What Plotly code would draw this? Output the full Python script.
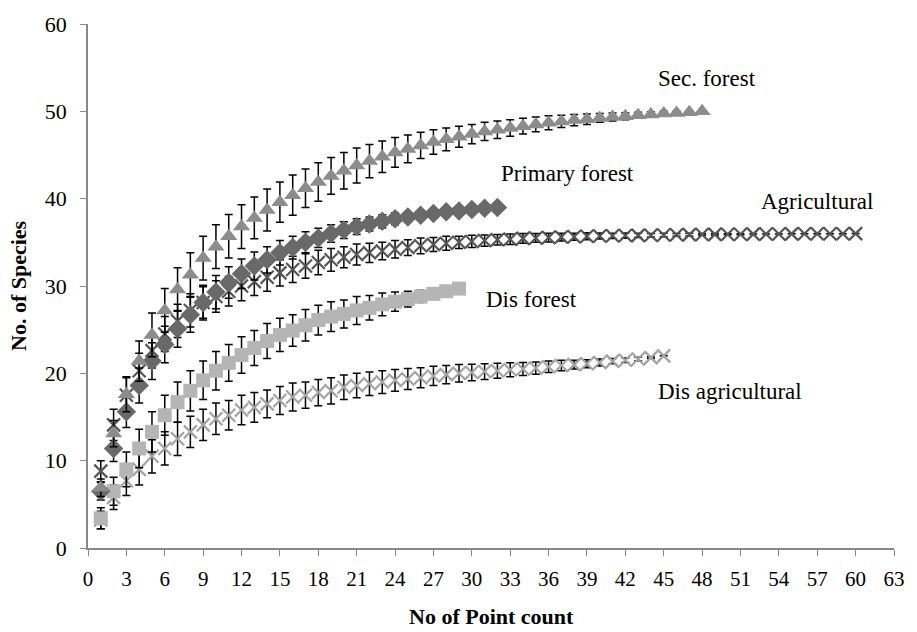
import plotly.graph_objects as go

# ---- data ----
sec_forest = [6.9, 13.1, 17.6, 21.4, 24.4, 27.2, 29.6, 31.3, 33.2, 34.5, 35.7, 36.8, 37.8, 38.7,
              39.6, 40.4, 41.2, 41.9, 42.6, 43.2, 43.8, 44.3, 44.8, 45.3, 45.7, 46.1, 46.5, 46.8,
              47.1, 47.4, 47.7, 47.9, 48.1, 48.3, 48.5, 48.7, 48.85, 49.0, 49.1, 49.25, 49.35,
              49.45, 49.55, 49.65, 49.75, 49.8, 49.9, 50.0]
sec_forest_err = [1.0, 1.5, 2.0, 2.3, 2.5, 2.5, 2.5, 2.5, 2.5, 2.5, 2.5, 2.5, 2.4, 2.4, 2.3, 2.3,
                  2.2, 2.2, 2.1, 2.1, 2.0, 1.9, 1.8, 1.7, 1.6, 1.5, 1.4, 1.3, 1.2, 1.1, 1.05, 1.0,
                  0.95, 0.9, 0.85, 0.8, 0.7, 0.65, 0.6, 0.5, 0.45, 0.4, 0.35, 0.3, 0.25, 0.2, 0.1, 0.0]

primary_forest = [6.5, 11.4, 15.6, 18.6, 21.4, 23.3, 25.1, 26.7, 28.1, 29.3, 30.4, 31.4, 32.3,
                  33.0, 33.8, 34.4, 35.0, 35.5, 36.0, 36.4, 36.8, 37.1, 37.4, 37.7, 37.9, 38.1,
                  38.3, 38.5, 38.6, 38.75, 38.9, 39.0]
primary_forest_err = [1.0, 1.5, 1.8, 2.0, 2.1, 2.1, 2.1, 2.0, 2.0, 1.9, 1.8, 1.7, 1.6, 1.5, 1.4,
                      1.3, 1.2, 1.1, 1.0, 0.95, 0.9, 0.8, 0.75, 0.7, 0.6, 0.5, 0.45, 0.4, 0.3,
                      0.2, 0.1, 0.0]

agricultural = [8.8, 14.1, 17.5, 20.3, 22.6, 24.5, 26.0, 27.2, 28.1, 28.8, 29.4, 30.0, 30.5, 31.0,
                31.5, 31.9, 32.3, 32.7, 33.0, 33.3, 33.6, 33.8, 34.0, 34.2, 34.4, 34.6, 34.75,
                34.9, 35.0, 35.1, 35.2, 35.3, 35.35, 35.45, 35.5, 35.55, 35.6, 35.65, 35.7,
                35.72, 35.75, 35.78, 35.8, 35.82, 35.84, 35.86, 35.88, 35.9, 35.91, 35.92,
                35.93, 35.94, 35.95, 35.96, 35.97, 35.98, 35.98, 35.99, 35.99, 36.0]
agricultural_err = [1.2, 1.8, 2.0, 2.0, 2.0, 2.0, 1.9, 1.9, 1.8, 1.8, 1.7, 1.7, 1.6, 1.6, 1.5,
                    1.5, 1.4, 1.4, 1.3, 1.2, 1.2, 1.1, 1.0, 1.0, 0.9, 0.9, 0.8, 0.8, 0.7, 0.7,
                    0.65, 0.6, 0.6, 0.55, 0.5, 0.5, 0.45, 0.4, 0.4, 0.35, 0.3, 0.3, 0.25, 0.2,
                    0.2, 0.15, 0.15, 0.1, 0.1, 0.05, 0.05, 0.0, 0.0, 0.0, 0.0, 0.0, 0.0, 0.0,
                    0.0, 0.0]

dis_forest = [3.4, 6.5, 9.0, 11.4, 13.3, 15.2, 16.7, 18.0, 19.2, 20.3, 21.2, 22.1, 22.9, 23.7,
              24.4, 24.9, 25.5, 26.1, 26.5, 26.8, 27.2, 27.5, 27.9, 28.2, 28.5, 28.8, 29.1,
              29.4, 29.7]
dis_forest_err = [1.2, 1.6, 2.0, 2.2, 2.3, 2.3, 2.3, 2.3, 2.2, 2.2, 2.1, 2.1, 2.0, 2.0, 1.9,
                  1.8, 1.8, 1.7, 1.7, 1.6, 1.6, 1.4, 1.3, 1.1, 0.9, 0.7, 0.5, 0.3, 0.0]

dis_agricultural = [3.2, 5.8, 7.7, 9.0, 10.5, 11.4, 12.5, 13.3, 14.1, 14.8, 15.2, 15.8, 16.1,
                    16.5, 16.9, 17.3, 17.5, 17.8, 18.0, 18.4, 18.6, 18.8, 19.0, 19.2, 19.35,
                    19.5, 19.7, 19.85, 20.0, 20.1, 20.2, 20.3, 20.4, 20.5, 20.6, 20.75, 20.9,
                    21.0, 21.1, 21.25, 21.4, 21.5, 21.65, 21.8, 22.0]
dis_agricultural_err = [1.0, 1.4, 1.7, 1.8, 1.9, 1.9, 1.9, 1.8, 1.8, 1.8, 1.7, 1.7, 1.7, 1.6,
                        1.6, 1.6, 1.5, 1.5, 1.5, 1.4, 1.4, 1.35, 1.3, 1.25, 1.2, 1.15, 1.1,
                        1.05, 1.0, 0.95, 0.9, 0.85, 0.8, 0.75, 0.7, 0.65, 0.6, 0.5, 0.45, 0.4,
                        0.3, 0.25, 0.2, 0.1, 0.0]

x_ticks = list(range(0, 64, 3))
y_ticks = [0, 10, 20, 30, 40, 50, 60]

labels = [("Sec. forest", 48.35, 53.8), ("Primary forest", 37.5, 42.9),
          ("Agricultural", 56.95, 39.7), ("Dis forest", 34.7, 28.5),
          ("Dis agricultural", 50.2, 17.9)]

FONT = "Liberation Serif, Times New Roman, serif"

series = [
    (dis_agricultural, dis_agricultural_err, "x-thin", "#a3a3a3", 13),
    (dis_forest, dis_forest_err, "square", "#b5b5b5", 14),
    (agricultural, agricultural_err, "x-thin", "#555555", 13),
    (primary_forest, primary_forest_err, "diamond", "#696969", 15),
    (sec_forest, sec_forest_err, "triangle-up", "#8c8c8c", 15),
]

fig = go.Figure()
for vals, errs, sym, col, sz in series:
    xs = list(range(1, len(vals) + 1))
    if sym.startswith("x"):
        marker = dict(symbol=sym, size=sz, color=col, line=dict(color=col, width=2.2))
    else:
        marker = dict(symbol=sym, size=sz, color=col, line=dict(width=0))
    fig.add_trace(go.Scatter(
        x=xs, y=vals, mode="markers", marker=marker,
        error_y=dict(type="data", array=errs, visible=True, color="black",
                     thickness=1.5, width=4),
        showlegend=False, hoverinfo="skip"))

for txt, lx, ly in labels:
    fig.add_annotation(x=lx, y=ly, text=txt, showarrow=False,
                       xanchor="center", yanchor="middle",
                       font=dict(family=FONT, size=23, color="black"))

fig.add_annotation(xref="paper", yref="paper", x=0.5, y=0, yshift=-68,
                   xanchor="center", yanchor="middle",
                   text="<b>No of Point count</b>", showarrow=False,
                   font=dict(family=FONT, size=22, color="black"))
fig.add_annotation(xref="paper", yref="paper", x=0, y=0.5, xshift=-70,
                   xanchor="center", yanchor="middle",
                   text="<b>No. of Species</b>", showarrow=False, textangle=-90,
                   font=dict(family=FONT, size=22, color="black"))

fig.update_layout(
    width=917, height=632,
    margin=dict(l=88, r=16, t=17, b=84),
    paper_bgcolor="white", plot_bgcolor="white",
    font=dict(family=FONT, size=22, color="black"),
    xaxis=dict(range=[0, 63], tickvals=x_ticks, ticks="outside", ticklen=6,
               tickcolor="#888", showline=True, linecolor="#888", linewidth=1.5,
               showgrid=False, zeroline=False, tickfont=dict(size=21),
               ticklabelstandoff=5),
    yaxis=dict(range=[0, 60], tickvals=y_ticks, ticks="outside", ticklen=6,
               tickcolor="#888", showline=True, linecolor="#888", linewidth=1.5,
               showgrid=False, zeroline=False, tickfont=dict(size=22),
               ticklabelstandoff=9),
)

fig.write_html("out.html")
